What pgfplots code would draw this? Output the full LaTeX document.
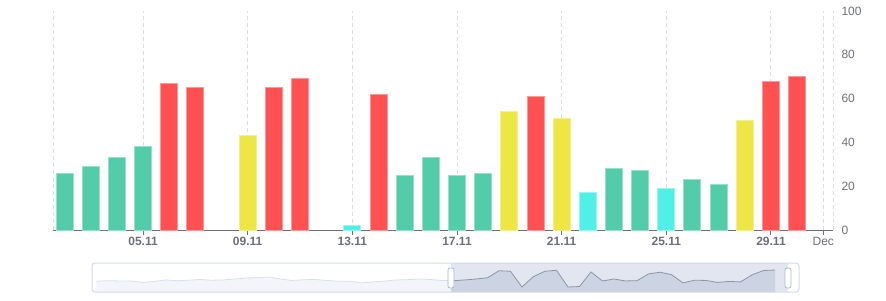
\documentclass[border=0pt]{standalone}
\usepackage{fontspec}
\setmainfont{Liberation Sans}
\usepackage{pgfplots}
\pgfplotsset{compat=1.18}
\usepgfplotslibrary{fillbetween}
\tikzset{fill between/on layer=main}
\definecolor{axisgray}{HTML}{6E7079}
\definecolor{gridc}{HTML}{D8DDE7}
\definecolor{cteal}{HTML}{52CCA9}
\definecolor{cred}{HTML}{FF5151}
\definecolor{cyel}{HTML}{EEE645}
\definecolor{ccyan}{HTML}{50F0E6}
\definecolor{faintline}{HTML}{D9DFEB}
\definecolor{faintfill}{HTML}{F3F5FA}
\definecolor{selbg}{HTML}{E1E6F0}
\definecolor{selfill}{HTML}{CCD3E2}
\definecolor{selline}{HTML}{8E96A6}
\definecolor{boxc}{HTML}{D2DAE9}
\definecolor{handlec}{HTML}{ACB8D1}
\begin{document}
\begin{tikzpicture}[x=1pt,y=1pt]
\path (0,0) rectangle (886,300);
\begin{axis}[
  at={(53pt,70pt)}, anchor=south west,
  width=780pt, height=219pt, scale only axis,
  xmin=1.56, xmax=31.37, ymin=0, ymax=100,
  axis x line=bottom, axis y line=right,
  x axis line style={-, draw=axisgray, line width=1pt},
  y axis line style={draw=none},
  font=\fontsize{12pt}{14pt}\selectfont,
  /pgf/number format/assume math mode=true,
  xtick={5,9,13,17,21,25,29,31},
  xticklabels={\textbf{05.11},\textbf{09.11},\textbf{13.11},\textbf{17.11},\textbf{21.11},\textbf{25.11},\textbf{29.11},Dec},
  x tick style={draw=axisgray, line width=1pt},
  major tick length=5pt, tick align=outside,
  xticklabel style={text=axisgray, yshift=1pt},
  ytick={0,20,40,60,80,100},
  y tick style={draw=none},
  yticklabel style={text=axisgray, anchor=west, xshift=0pt},
  xmajorgrids, major grid style={draw=gridc, line width=1pt, dash pattern=on 4pt off 3pt},
  extra x ticks={1.56,31.37}, extra x tick labels={},
  extra x tick style={major tick length=0pt, grid=major},
  clip=false,
]
% teal: 21-40
\addplot[ybar, bar shift=0pt, bar width=17pt, fill=cteal, draw=cteal!60!white, line width=1pt]
  coordinates {(2,26) (3,29) (4,33) (5,38) (15,25) (16,33) (17,25) (18,26) (23,28) (24,27) (26,23) (27,21)};
% red: >60
\addplot[ybar, bar shift=0pt, bar width=17pt, fill=cred, draw=cred!60!white, line width=1pt]
  coordinates {(6,67) (7,65) (10,65) (11,69) (14,62) (20,61) (29,68) (30,70)};
% yellow: 41-60
\addplot[ybar, bar shift=0pt, bar width=17pt, fill=cyel, draw=cyel!60!white, line width=1pt]
  coordinates {(9,43) (19,54) (21,51) (28,50)};
% cyan: 0-20
\addplot[ybar, bar shift=0pt, bar width=17pt, fill=ccyan, draw=ccyan!60!white, line width=1pt]
  coordinates {(13,2) (22,17) (25,19)};
\end{axis}
% slider: full data shadow
\begin{axis}[
  at={(92pt,8pt)}, anchor=south west,
  width=707pt, height=29pt, scale only axis,
  xmin=-29.39, xmax=32.09, ymin=-20.6, ymax=99,
  hide axis, clip=true,
]
\addplot[name path=sf, draw=none] table {
x y
-29 24
-28 26
-27 25
-26 25
-25 19
-24 23
-23 29
-22 26
-21 28
-20 31
-19 28
-18 29
-17 33
-16 37
-15 39
-14 41
-13 33
-12 27
-11 30
-10 31
-9 27
-8 24
-7 24
-6 17
-5 21
-4 24
-3 29
-2 30
-1 33
0 31
1 27
2 26
3 29
4 33
5 38
6 67
7 65
8 0
9 43
10 65
11 69
12 0
13 2
14 62
15 25
16 33
17 25
18 26
19 54
20 61
21 51
22 17
23 28
24 27
25 19
26 23
27 21
28 50
29 68
30 70
};
\path[name path=sb] (axis cs:-29,-20.6) -- (axis cs:30,-20.6);
\addplot[fill=faintfill, draw=none] fill between[of=sf and sb];
\addplot[draw=faintline, line width=0.8pt] table {
x y
-29 24
-28 26
-27 25
-26 25
-25 19
-24 23
-23 29
-22 26
-21 28
-20 31
-19 28
-18 29
-17 33
-16 37
-15 39
-14 41
-13 33
-12 27
-11 30
-10 31
-9 27
-8 24
-7 24
-6 17
-5 21
-4 24
-3 29
-2 30
-1 33
0 31
1 27
2 26
};
\end{axis}
% slider: selected window
\begin{axis}[
  at={(451pt,8pt)}, anchor=south west,
  width=337pt, height=29pt, scale only axis,
  xmin=1.83, xmax=31.13, ymin=-20.6, ymax=99,
  hide axis, clip=true,
]
\fill[selbg] (axis cs:1.83,-20.6) rectangle (axis cs:31.13,99);
\addplot[name path=df, draw=none] table {
x y
1 27
2 26
3 29
4 33
5 38
6 67
7 65
8 0
9 43
10 65
11 69
12 0
13 2
14 62
15 25
16 33
17 25
18 26
19 54
20 61
21 51
22 17
23 28
24 27
25 19
26 23
27 21
28 50
29 68
30 70
};
\path[name path=db] (axis cs:1,-20.6) -- (axis cs:30,-20.6);
\addplot[fill=selfill, draw=none] fill between[of=df and db];
\addplot[draw=selline, line width=0.8pt] table {
x y
1 27
2 26
3 29
4 33
5 38
6 67
7 65
8 0
9 43
10 65
11 69
12 0
13 2
14 62
15 25
16 33
17 25
18 26
19 54
20 61
21 51
22 17
23 28
24 27
25 19
26 23
27 21
28 50
29 68
30 70
};
\end{axis}
\draw[boxc, line width=1pt, rounded corners=3pt] (92,8) rectangle (799,37);
\draw[handlec, fill=white, line width=0.8pt, rounded corners=2pt] (448,12) rectangle (454,32);
\draw[handlec, fill=white, line width=0.8pt, rounded corners=2pt] (785,12) rectangle (791,32);
\end{tikzpicture}
\end{document}
